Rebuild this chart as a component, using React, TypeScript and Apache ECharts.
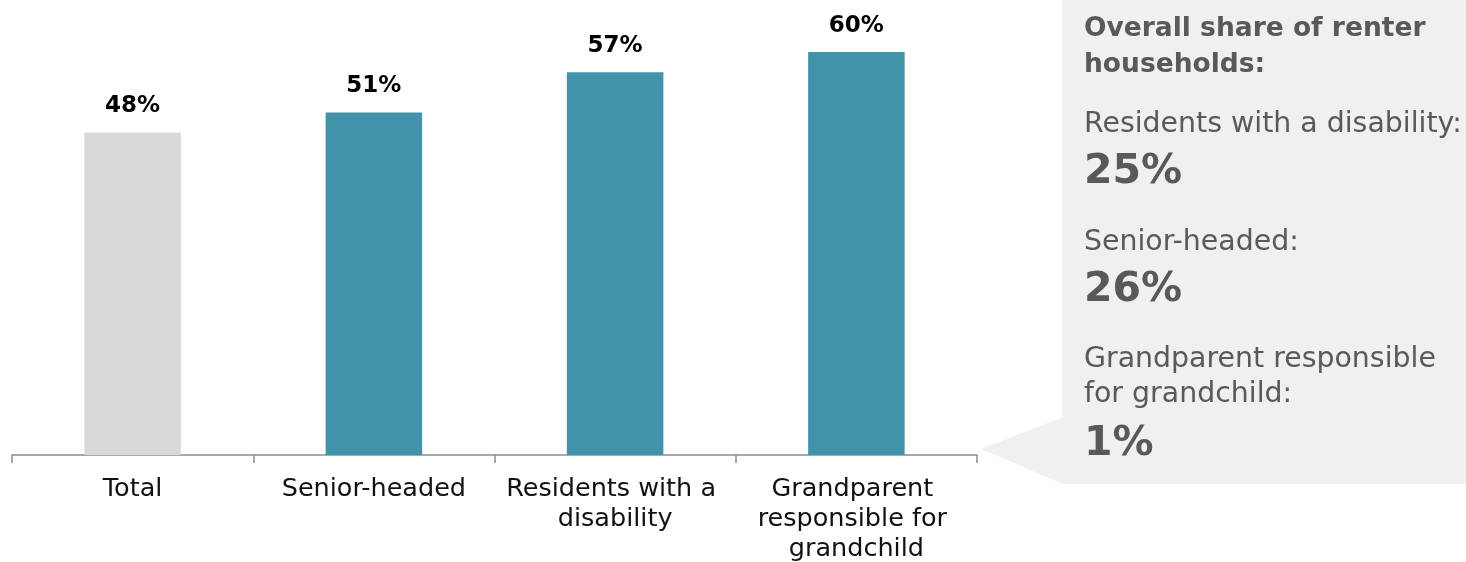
import React, { useEffect, useRef } from "react";
import * as echarts from "echarts";

// Share of households that rent, by household type
const categories = [
  "Total",
  "Senior-headed",
  "Residents with a disability",
  "Grandparent responsible for grandchild",
];
const renterShare = [48, 51, 57, 60];

// Overall share of renter households, shown in the callout panel
const overallTitle = ["Overall share of renter", "households:"];
const overallGroups = [
  ["Residents with a disability:"],
  ["Senior-headed:"],
  ["Grandparent responsible", "for grandchild:"],
];
const overallValues = [25, 26, 1];

const TEAL = "#4293AA";
const LIGHT_GREY = "#D9D9D9";
const PANEL_BG = "#F0F0F0";
const PANEL_TEXT = "#595959";
const FONT = "DejaVu Sans";

function buildPanel(): any[] {
  const x = 1084;
  const els: any[] = [
    {
      type: "rect",
      shape: { x: 1062, y: 0, width: 404, height: 484 },
      style: { fill: PANEL_BG },
      silent: true,
    },
    {
      type: "polygon",
      shape: { points: [[1063, 417], [981, 449], [1063, 484]] },
      style: { fill: PANEL_BG },
      silent: true,
    },
  ];
  const mid = (baseline: number, size: number) => baseline - 0.35 * size;

  overallTitle.forEach((line, i) => {
    els.push({
      type: "text",
      x,
      y: mid(36 + i * 36, 26.5),
      style: {
        text: line,
        font: `bold 26.5px "${FONT}"`,
        fill: PANEL_TEXT,
        textAlign: "left",
        textVerticalAlign: "middle",
      },
    });
  });

  const labelBaselines = [[132], [250], [367, 402]];
  const valueBaselines = [183, 301, 455];
  overallGroups.forEach((lines, g) => {
    lines.forEach((line, i) => {
      els.push({
        type: "text",
        x,
        y: mid(labelBaselines[g][i], 28.4),
        style: {
          text: line,
          font: `28.4px "${FONT}"`,
          fill: PANEL_TEXT,
          textAlign: "left",
          textVerticalAlign: "middle",
        },
      });
    });
    els.push({
      type: "text",
      x,
      y: mid(valueBaselines[g], 41),
      style: {
        text: `${overallValues[g]}%`,
        font: `bold 41px "${FONT}"`,
        fill: PANEL_TEXT,
        textAlign: "left",
        textVerticalAlign: "middle",
      },
    });
  });
  return els;
}

export default function App() {
  const ref = useRef<HTMLDivElement>(null);

  useEffect(() => {
    if (!ref.current) return;
    const chart = echarts.init(ref.current, null, { renderer: "svg" });
    chart.setOption({
      animation: false,
      textStyle: { fontFamily: FONT },
      grid: { left: 12, right: 489, top: 52, bottom: 107, containLabel: false },
      xAxis: {
        type: "category",
        data: categories,
        boundaryGap: true,
        axisLine: { lineStyle: { color: "#8C8C8C", width: 1.5 } },
        axisTick: {
          show: true,
          alignWithLabel: false,
          length: 8,
          lineStyle: { color: "#8C8C8C", width: 1.5 },
        },
        axisLabel: {
          interval: 0,
          color: "#111111",
          fontSize: 25.5,
          lineHeight: 30,
          margin: 17,
          width: 236,
          overflow: "break",
          fontFamily: FONT,
        },
      },
      yAxis: {
        type: "value",
        min: 0,
        max: 60,
        show: false,
        splitLine: { show: false },
      },
      series: [
        {
          type: "bar",
          barWidth: "40%",
          data: renterShare.map((v, i) => ({
            value: v,
            itemStyle: { color: i === 0 ? LIGHT_GREY : TEAL },
          })),
          label: {
            show: true,
            position: "top",
            distance: 17,
            formatter: (p: any) => `${p.value}%`,
            color: "#000000",
            fontWeight: "bold",
            fontSize: 23,
            fontFamily: FONT,
          },
        },
      ],
      graphic: buildPanel(),
    });
    return () => chart.dispose();
  }, []);

  return (
    <div
      ref={ref}
      style={{ position: "fixed", left: 0, top: 0, width: 1466, height: 562 }}
    />
  );
}
